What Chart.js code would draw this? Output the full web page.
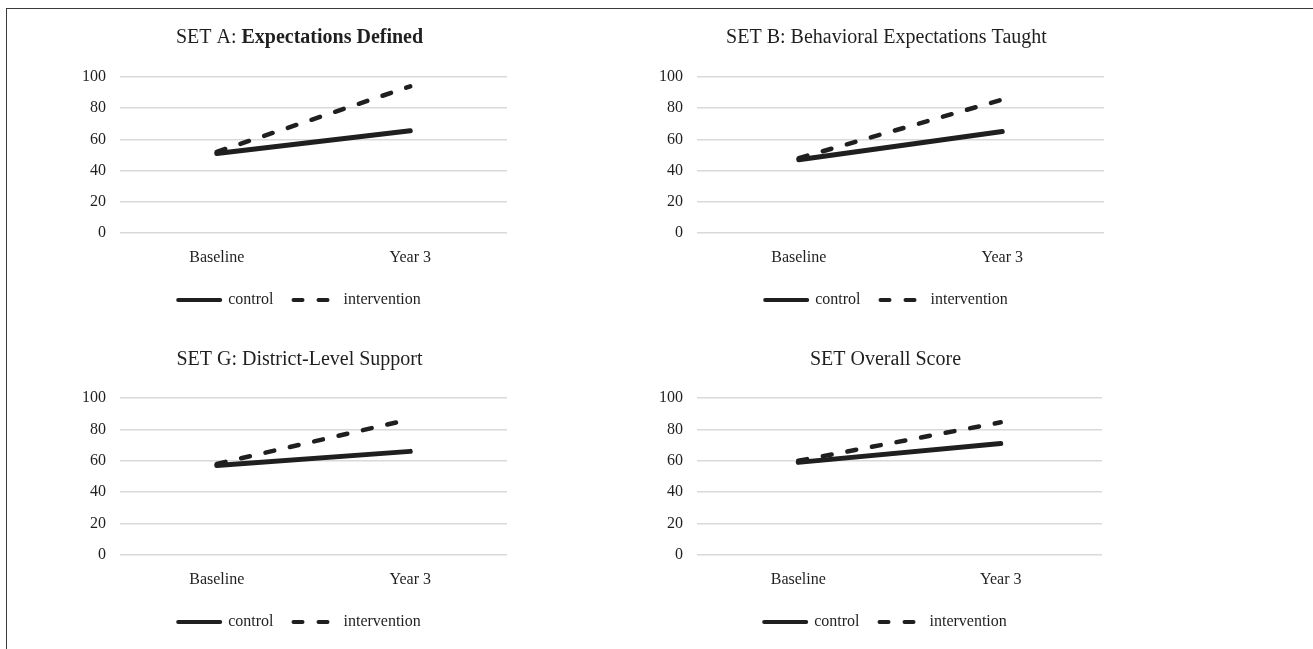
<!DOCTYPE html>
<html>
<head>
<meta charset="utf-8">
<title>SET scores</title>
<script src="https://cdn.jsdelivr.net/npm/chart.js@4"></script>
<style>
  html, body { margin: 0; padding: 0; background: #fff; overflow: hidden; }
  #wrap { position: relative; width: 1313px; height: 649px; }
  canvas { position: absolute; }
  #frame {
    position: absolute; left: 6px; top: 8px; width: 1330px; height: 670px;
    border: 1.5px solid #3a3a3a; box-sizing: border-box; pointer-events: none;
  }
</style>
</head>
<body>
<div id="wrap">
  <canvas id="chartA" width="653" height="320" style="left:0;top:0"></canvas>
  <canvas id="chartB" width="660" height="320" style="left:653px;top:0"></canvas>
  <canvas id="chartC" width="653" height="329" style="left:0;top:320px"></canvas>
  <canvas id="chartD" width="660" height="329" style="left:653px;top:320px"></canvas>
  <div id="frame"></div>
</div>
<script>
// Data
const categories = ['Baseline', 'Year 3'];
const seriesNames = ['control', 'intervention'];
const yTicks = [0, 20, 40, 60, 80, 100];

const titleA = ['SET A: ', 'Expectations Defined'];   // second part is bold
const titleB = 'SET B: Behavioral Expectations Taught';
const titleG = 'SET G: District-Level Support';
const titleOverall = 'SET Overall Score';

const controlA = [51, 65.5];
const interventionA = [52, 94];
const controlB = [47, 65];
const interventionB = [48, 85.5];
const controlG = [57, 66];
const interventionG = [58, 86.5];
const controlOverall = [59, 71];
const interventionOverall = [60, 84.5];

const SERIF = "'Liberation Serif', 'Times New Roman', serif";
const INK = '#1f1f1f';
const GRID = '#d9d9d9';

// Panel layout (pixel paddings so each plot lands where it does in the figure)
const panels = [
  { id: 'chartA', title: titleA, control: controlA, intervention: interventionA,
    padL: 82, padR: 136, padB: 2, titleTop: 26, titleBottom: 27, xH: 39, xPad: 15 },
  { id: 'chartB', title: titleB, control: controlB, intervention: interventionB,
    padL: 6, padR: 199, padB: 2, titleTop: 26, titleBottom: 27, xH: 39, xPad: 15 },
  { id: 'chartC', title: titleG, control: controlG, intervention: interventionG,
    padL: 82, padR: 136, padB: 9, titleTop: 28, titleBottom: 26, xH: 39, xPad: 15 },
  { id: 'chartD', title: titleOverall, control: controlOverall, intervention: interventionOverall,
    padL: 6, padR: 201, padB: 9, titleTop: 28, titleBottom: 26, xH: 39, xPad: 15 }
];

// Title with a regular and a bold run (Chart.js title only does one font)
function mixedTitle(parts, p) {
  return {
    id: 'mixedTitle',
    afterDraw(chart) {
      const ctx = chart.ctx;
      const tb = chart.titleBlock;
      const cx = (tb.left + tb.right) / 2;
      const cy = tb.top + p.titleTop + 12;
      const normal = 'normal 20px ' + SERIF;
      const bold = 'bold 20px ' + SERIF;
      ctx.save();
      ctx.font = normal;
      const w1 = ctx.measureText(parts[0]).width;
      ctx.font = bold;
      const w2 = ctx.measureText(parts[1]).width;
      const x = cx - (w1 + w2) / 2;
      ctx.fillStyle = INK;
      ctx.textBaseline = 'middle';
      ctx.textAlign = 'left';
      ctx.font = normal;
      ctx.fillText(parts[0], x, cy);
      ctx.font = bold;
      ctx.fillText(parts[1], x + w1, cy);
      ctx.restore();
    }
  };
}

// Legend samples: point style 'line' does not pick up the dataset dash by itself
function legendLabels(chart) {
  const items = Chart.defaults.plugins.legend.labels.generateLabels(chart);
  items.forEach((item) => {
    const ds = chart.data.datasets[item.datasetIndex];
    item.lineDash = ds.borderDash || [];
    item.lineWidth = 4;
    item.lineCap = 'round';
    item.strokeStyle = ds.borderColor;
  });
  return items;
}

function makeChart(p) {
  const ctx = document.getElementById(p.id);
  const isMixed = Array.isArray(p.title);
  const tickFont = { family: SERIF, size: 16 };

  return new Chart(ctx, {
    type: 'line',
    data: {
      labels: categories,
      datasets: [
        {
          label: seriesNames[0],
          data: p.control,
          borderColor: INK,
          backgroundColor: INK,
          borderWidth: 5,
          borderCapStyle: 'round',
          pointRadius: 0,
          tension: 0
        },
        {
          label: seriesNames[1],
          data: p.intervention,
          borderColor: INK,
          backgroundColor: INK,
          borderWidth: 4.5,
          borderDash: [9, 16],
          borderCapStyle: 'round',
          pointRadius: 0,
          tension: 0
        }
      ]
    },
    plugins: isMixed ? [mixedTitle(p.title, p)] : [],
    options: {
      responsive: false,
      animation: false,
      layout: { padding: { left: p.padL, right: p.padR, top: 0, bottom: p.padB } },
      plugins: {
        title: {
          display: true,
          text: isMixed ? ' ' : p.title,
          color: INK,
          font: { family: SERIF, size: 20, weight: 'normal' },
          padding: { top: p.titleTop, bottom: p.titleBottom }
        },
        legend: {
          position: 'bottom',
          labels: {
            usePointStyle: true,
            pointStyle: 'line',
            pointStyleWidth: 42,
            padding: 20,
            color: INK,
            font: tickFont,
            generateLabels: legendLabels
          }
        },
        tooltip: { enabled: false }
      },
      scales: {
        x: {
          offset: true,
          grid: { display: false, drawTicks: false },
          border: { display: false },
          ticks: { color: INK, font: tickFont, padding: p.xPad },
          afterFit: (scale) => { scale.height = p.xH; }
        },
        y: {
          min: yTicks[0],
          max: yTicks[yTicks.length - 1],
          afterBuildTicks: (scale) => { scale.ticks = yTicks.map(v => ({ value: v })); },
          grid: { color: GRID, lineWidth: 1.5, drawTicks: false },
          border: { display: false },
          ticks: { color: INK, font: tickFont, padding: 14 },
          afterFit: (scale) => { scale.width = 38; }
        },
        // empty spacer on the right so title and legend sit where they do in the figure
        spacer: {
          position: 'right',
          grid: { display: false, drawTicks: false },
          border: { display: false },
          ticks: { display: false },
          afterFit: (scale) => { scale.width = 10; }
        }
      }
    }
  });
}

panels.forEach(makeChart);
</script>
</body>
</html>
